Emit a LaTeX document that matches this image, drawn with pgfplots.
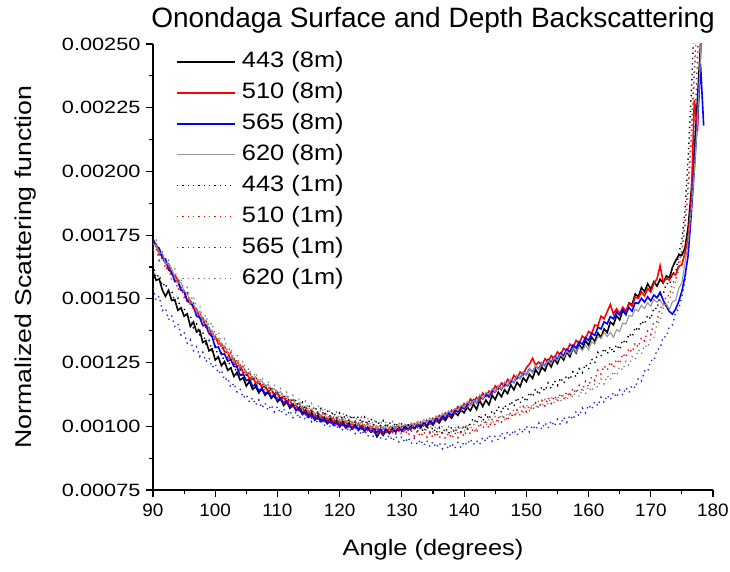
\documentclass[border=0pt]{standalone}
\usepackage{fontspec}
\setmainfont{Liberation Sans}
\newfontfamily\tickfont{Liberation Sans}[FakeStretch=1.22]
\newfontfamily\xtickfont{Liberation Sans}[FakeStretch=1.05]
\newfontfamily\legfont{Liberation Sans}[FakeStretch=1.14]
\newfontfamily\ylabfont{Liberation Sans}[FakeStretch=1.17]
\usepackage{pgfplots}
\usepackage{pgfplotstable}
\pgfplotsset{compat=1.18}
\definecolor{cblack}{RGB}{0,0,0}
\definecolor{cred}{RGB}{255,0,0}
\definecolor{cblue}{RGB}{0,0,255}
\definecolor{gsolid}{RGB}{150,150,150}
\definecolor{gdot}{RGB}{120,120,120}
\definecolor{bdot}{RGB}{40,40,215}
\pgfplotstableread{
x A8 B8 C8 D8 A1 B1 C1 D1
90.0 1605 1717 1736 1716 1635 1690 1542 1712
90.5 1573 1715 1705 1710 1582 1700 1495 1730
91.0 1578 1673 1699 1679 1595 1650 1510 1680
91.5 1535 1672 1658 1680 1550 1667 1454 1685
92.0 1510 1640 1657 1641 1562 1615 1463 1628
92.5 1533 1637 1614 1635 1517 1628 1418 1650
93.0 1494 1596 1605 1620 1533 1572 1435 1607
93.5 1497 1593 1568 1584 1488 1587 1392 1618
94.0 1455 1575 1568 1562 1505 1535 1403 1565
94.5 1465 1535 1534 1565 1448 1550 1358 1581
95.0 1432 1531 1530 1530 1465 1506 1369 1530
95.5 1441 1493 1491 1524 1424 1522 1326 1544
96.0 1392 1494 1485 1484 1436 1475 1340 1494
96.5 1409 1462 1472 1482 1387 1484 1297 1512
97.0 1370 1460 1432 1450 1402 1434 1312 1463
97.5 1377 1424 1428 1450 1360 1450 1274 1474
98.0 1329 1426 1395 1416 1370 1403 1291 1422
98.5 1336 1389 1397 1417 1324 1418 1253 1437
99.0 1296 1387 1364 1379 1337 1362 1269 1393
99.5 1304 1352 1352 1377 1297 1376 1230 1406
100.0 1260 1353 1309 1343 1314 1333 1245 1356
100.5 1272 1323 1311 1345 1272 1348 1206 1371
101.0 1238 1325 1282 1312 1287 1301 1221 1325
101.5 1254 1292 1284 1317 1248 1316 1180 1343
102.0 1220 1291 1256 1286 1266 1271 1190 1294
102.5 1229 1260 1262 1286 1228 1290 1152 1309
103.0 1196 1264 1235 1254 1244 1244 1169 1262
103.5 1212 1235 1233 1258 1204 1262 1135 1281
104.0 1182 1240 1200 1233 1222 1223 1147 1236
104.5 1190 1210 1205 1236 1186 1238 1111 1256
105.0 1158 1212 1179 1207 1204 1196 1125 1213
105.5 1176 1186 1184 1211 1170 1216 1094 1229
106.0 1145 1193 1158 1186 1191 1176 1112 1189
106.5 1156 1170 1164 1195 1154 1196 1083 1211
107.0 1131 1177 1140 1172 1172 1158 1104 1173
107.5 1147 1152 1148 1178 1141 1174 1071 1194
108.0 1122 1159 1129 1155 1162 1136 1092 1154
108.5 1134 1136 1136 1164 1130 1158 1062 1176
109.0 1110 1145 1115 1140 1149 1123 1084 1141
109.5 1124 1124 1125 1148 1114 1142 1056 1164
110.0 1096 1129 1102 1128 1132 1108 1077 1126
110.5 1108 1106 1111 1136 1103 1128 1050 1148
111.0 1082 1115 1092 1112 1124 1093 1070 1111
111.5 1096 1093 1100 1119 1091 1114 1040 1134
112.0 1071 1101 1078 1096 1112 1083 1062 1100
112.5 1085 1077 1087 1106 1083 1102 1034 1122
113.0 1063 1085 1062 1083 1104 1068 1057 1086
113.5 1074 1061 1070 1092 1073 1089 1030 1109
114.0 1052 1074 1046 1070 1094 1058 1052 1076
114.5 1064 1046 1055 1079 1063 1079 1024 1099
115.0 1042 1060 1035 1056 1084 1048 1047 1066
115.5 1054 1033 1045 1068 1056 1069 1018 1090
116.0 1033 1049 1024 1048 1079 1038 1035 1060
116.5 1043 1029 1035 1058 1050 1060 1010 1082
117.0 1023 1042 1018 1038 1070 1032 1028 1052
117.5 1036 1019 1028 1050 1042 1052 1002 1074
118.0 1017 1033 1010 1032 1064 1025 1020 1044
118.5 1031 1014 1021 1042 1036 1044 996 1066
119.0 1013 1029 1004 1025 1057 1018 1015 1036
119.5 1024 1009 1015 1036 1030 1036 990 1056
120.0 1004 1023 998 1019 1052 1010 1010 1028
120.5 1019 1004 1010 1030 1026 1030 984 1052
121.0 999 1019 993 1013 1049 1005 1003 1023
121.5 1013 998 1006 1027 1020 1024 978 1046
122.0 991 1013 989 1009 1044 1000 997 1018
122.5 1006 994 1003 1020 1016 1020 972 1042
123.0 988 1010 984 1003 1039 995 991 1013
123.5 1001 989 997 1017 1012 1014 966 1036
124.0 982 1003 981 999 1036 990 985 1008
124.5 997 984 994 1010 1008 1010 960 1032
125.0 977 999 979 993 1032 985 980 1003
125.5 983 978 990 1007 1003 1004 955 1027
126.0 959 995 975 991 1024 980 975 999
126.5 980 978 989 1004 998 1000 950 1024
127.0 965 994 975 988 1022 976 970 996
127.5 985 977 988 1004 994 996 946 1020
128.0 972 993 976 989 1017 973 966 993
128.5 990 977 991 1003 991 994 942 1018
129.0 978 996 978 990 1016 970 962 990
129.5 996 981 993 1005 989 990 939 1015
130.0 982 1000 981 992 1012 967 960 988
130.5 1000 986 998 1008 986 987 936 1013
131.0 986 1005 986 996 1009 964 956 986
131.5 1003 991 1003 1013 981 984 932 1011
132.0 990 1010 991 1001 1004 961 952 984
132.5 1008 996 1008 1019 979 982 928 1009
133.0 994 1016 996 1007 1002 959 948 982
133.5 1011 1002 1014 1025 977 980 924 1007
134.0 998 1023 1004 1014 1000 957 944 980
134.5 1017 1009 1021 1033 974 978 920 1005
135.0 1005 1031 1011 1022 997 955 940 978
135.5 1025 1019 1031 1041 972 976 916 1003
136.0 1013 1042 1021 1031 995 953 936 976
136.5 1034 1029 1040 1051 970 974 912 1001
137.0 1023 1052 1032 1041 994 952 933 974
137.5 1044 1039 1052 1061 971 974 911 999
138.0 1032 1063 1042 1051 997 952 934 973
138.5 1054 1051 1063 1071 974 975 913 1000
139.0 1043 1077 1056 1062 1000 955 936 975
139.5 1064 1064 1077 1083 978 979 916 1002
140.0 1053 1089 1069 1074 1006 960 940 978
140.5 1075 1075 1088 1097 983 992 926 1012
141.0 1061 1107 1084 1082 1011 970 950 990
141.5 1087 1094 1104 1102 1032 993 928 1010
142.0 1066 1113 1091 1092 1010 973 944 986
142.5 1101 1101 1118 1124 1046 1013 928 1010
143.0 1078 1130 1107 1108 1021 992 957 1026
143.5 1103 1117 1127 1133 1050 1016 940 1002
144.0 1084 1138 1115 1124 1027 993 966 1029
144.5 1122 1130 1140 1148 1062 1026 942 1006
145.0 1105 1159 1134 1134 1047 1005 963 1038
145.5 1134 1146 1156 1157 1078 1038 946 1020
146.0 1116 1170 1144 1145 1054 1017 976 1048
146.5 1143 1157 1169 1174 1084 1042 954 1023
147.0 1128 1184 1159 1161 1064 1021 979 1054
147.5 1163 1172 1181 1185 1099 1056 962 1035
148.0 1143 1200 1172 1173 1078 1035 986 1066
148.5 1172 1186 1198 1201 1113 1064 964 1043
149.0 1156 1213 1188 1188 1090 1043 992 1074
149.5 1190 1202 1212 1214 1119 1078 974 1055
150.0 1175 1230 1202 1201 1096 1057 1002 1086
150.5 1204 1244 1225 1225 1134 1082 978 1062
151.0 1188 1267 1213 1212 1115 1062 1005 1092
151.5 1222 1240 1235 1238 1148 1092 986 1072
152.0 1203 1252 1225 1222 1123 1070 1012 1101
152.5 1232 1239 1249 1249 1156 1101 988 1076
153.0 1218 1265 1237 1235 1138 1080 1015 1106
153.5 1252 1252 1262 1259 1170 1113 993 1086
154.0 1233 1277 1250 1246 1148 1090 1022 1116
154.5 1264 1264 1274 1271 1179 1120 1000 1090
155.0 1246 1292 1263 1257 1160 1098 1027 1119
155.5 1277 1280 1288 1282 1191 1130 1006 1098
156.0 1260 1306 1277 1268 1168 1105 1036 1126
156.5 1292 1294 1302 1295 1200 1136 1015 1102
157.0 1273 1322 1292 1282 1182 1115 1044 1132
157.5 1306 1310 1318 1305 1214 1150 1026 1112
158.0 1288 1337 1307 1291 1193 1130 1059 1141
158.5 1320 1325 1332 1313 1226 1161 1040 1116
159.0 1303 1354 1322 1297 1210 1140 1072 1146
159.5 1336 1343 1348 1318 1244 1176 1053 1126
160.0 1318 1372 1337 1301 1223 1155 1084 1156
160.5 1350 1364 1365 1331 1264 1194 1066 1136
161.0 1333 1397 1357 1322 1248 1180 1097 1169
161.5 1366 1394 1388 1352 1290 1220 1080 1152
162.0 1348 1432 1382 1346 1275 1205 1114 1186
162.5 1382 1422 1410 1368 1306 1238 1093 1166
163.0 1368 1450 1402 1352 1283 1220 1122 1199
163.5 1409 1478 1430 1369 1314 1253 1103 1182
164.0 1398 1440 1422 1349 1288 1230 1134 1216
164.5 1434 1461 1448 1379 1321 1264 1113 1198
165.0 1418 1442 1437 1372 1300 1245 1142 1234
165.5 1454 1467 1458 1405 1340 1286 1122 1220
166.0 1438 1452 1442 1401 1323 1270 1152 1256
166.5 1484 1482 1465 1435 1364 1306 1132 1238
167.0 1478 1472 1452 1432 1350 1290 1162 1274
167.5 1519 1507 1485 1460 1390 1328 1150 1262
168.0 1508 1502 1482 1451 1373 1310 1189 1301
168.5 1544 1527 1502 1475 1414 1348 1178 1283
169.0 1528 1512 1487 1462 1400 1335 1217 1319
169.5 1559 1540 1508 1485 1436 1374 1213 1308
170.0 1538 1527 1492 1471 1420 1360 1259 1346
170.5 1567 1562 1515 1498 1466 1411 1256 1348
171.0 1550 1578 1504 1487 1460 1410 1302 1404
171.5 1577 1630 1526 1496 1516 1466 1305 1410
172.0 1562 1565 1495 1474 1518 1470 1352 1464
172.5 1590 1580 1470 1480 1562 1514 1350 1460
173.0 1582 1574 1450 1459 1555 1512 1392 1502
173.5 1625 1598 1440 1490 1602 1564 1398 1517
174.0 1650 1594 1460 1494 1602 1572 1447 1570
174.5 1672 1628 1490 1541 1677 1645 1460 1612
175.0 1672 1634 1530 1564 1730 1690 1510 1680
175.5 1700 1680 1590 1640 1850 1800 1570 1780
176.0 1780 1740 1670 1720 2050 1950 1680 1900
176.5 1920 1880 1830 1850 2300 2150 1850 2100
177.0 2080 2280 2010 2000 2600 2400 2100 2350
177.5 2280 2160 2200 2200 2800 2650 2450 2650
178.0 2500 2450 2420 2450 2900 2850 2750 2850
178.5 2750 2750 2180 2750 3000 3000 3000 3000
179.0 2900 2900 nan 2900 3000 3000 3000 3000
}\data
\begin{document}
\begin{tikzpicture}
\useasboundingbox (0,0) rectangle (730pt,571pt);
\begin{axis}[
  at={(153pt,81pt)}, anchor=south west,
  scale only axis, width=560pt, height=446pt,
  xmin=90, xmax=180, ymin=750, ymax=2500,
  axis x line*=bottom, axis y line*=left,
  axis line style={line width=1.2pt},
  every tick/.style={black, line width=1.1pt},
  tick align=outside,
  major tick length=7pt, minor tick length=4pt,
  xtick={90,100,...,180}, minor x tick num=1,
  ytick={750,1000,1250,1500,1750,2000,2250,2500}, minor y tick num=1,
  yticklabels={0.00075,0.00100,0.00125,0.00150,0.00175,0.00200,0.00225,0.00250},
  /pgf/number format/assume math mode=true,
  yticklabel style={font=\tickfont\fontsize{17.8}{20}\selectfont, xshift=-2pt},
  xticklabel style={font=\xtickfont\fontsize{18}{20}\selectfont, yshift=-3pt},
  title={Onondaga Surface and Depth Backscattering},
  title style={font=\fontsize{28}{32}\selectfont, at={(axis description cs:0.5,1)}, anchor=base, yshift=10pt},
  xlabel={Angle (degrees)},
  xlabel style={font=\legfont\fontsize{22.3}{26}\selectfont, at={(axis description cs:0.5,-0.1345)}, anchor=center},
  ylabel={Normalized Scattering function},
  ylabel style={font=\ylabfont\fontsize{22.8}{26}\selectfont, at={(axis description cs:-0.227,0.5)}, anchor=center, rotate=0},
  legend cell align=left,
  legend style={draw=none, fill=none, at={(axis description cs:0.036,1.0)}, anchor=north west,
    font=\legfont\fontsize{22.3}{26}\selectfont, row sep=0pt,
    nodes={text height=16pt, text depth=5pt, inner ysep=5pt, inner xsep=6pt}},
  legend image code/.code={\draw[#1] (0pt,0pt) -- (58pt,0pt);},
  clip=true,
]
\addplot[color=cblack, line width=1.6pt] table[x=x, y=A8] {\data};
\addlegendentry{443 (8m)}
\addplot[color=cred, line width=1.6pt] table[x=x, y=B8] {\data};
\addlegendentry{510 (8m)}
\addplot[color=cblue, line width=1.6pt] table[x=x, y=C8] {\data};
\addlegendentry{565 (8m)}
\addplot[color=gsolid, line width=1.1pt] table[x=x, y=D8] {\data};
\addlegendentry{620 (8m)}
\addplot[color=cblack, line width=1.4pt, dash pattern=on 1.3pt off 4pt] table[x=x, y=A1] {\data};
\addlegendentry{443 (1m)}
\addplot[color=cred, line width=1.4pt, dash pattern=on 1.3pt off 4pt] table[x=x, y=B1] {\data};
\addlegendentry{510 (1m)}
\addplot[color=bdot, line width=1.4pt, dash pattern=on 1.3pt off 4pt] table[x=x, y=C1] {\data};
\addlegendentry{565 (1m)}
\addplot[color=gdot, line width=1.2pt, dash pattern=on 1.3pt off 4pt] table[x=x, y=D1] {\data};
\addlegendentry{620 (1m)}
\end{axis}
\end{tikzpicture}
\end{document}
